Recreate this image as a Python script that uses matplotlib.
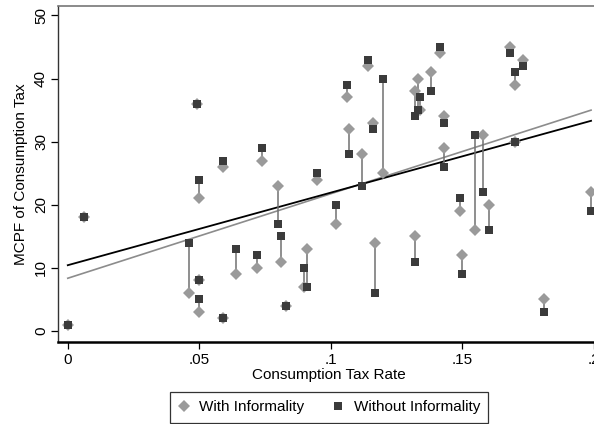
import numpy as np
import matplotlib.pyplot as plt

plt.rcParams["font.family"] = ["Liberation Sans", "DejaVu Sans"]

# taxa de consumo e MCPF (com / sem informalidade)
tax_rate = [0.000, 0.006, 0.049, 0.050, 0.046, 0.050, 0.050, 0.059, 0.059, 0.064,
            0.072, 0.074, 0.080, 0.081, 0.083, 0.0898, 0.0909, 0.0948, 0.102, 0.106,
            0.107, 0.112, 0.114, 0.116, 0.117, 0.120, 0.132, 0.133, 0.134, 0.132,
            0.138, 0.1417, 0.143, 0.143, 0.149, 0.150, 0.155, 0.158, 0.160, 0.168,
            0.170, 0.170, 0.173, 0.181, 0.199]
mcpf_with = [1, 18, 36, 21, 6, 8, 3, 2, 26, 9,
             10, 27, 23, 11, 4, 7, 13, 24, 17, 37,
             32, 28, 42, 33, 14, 25, 38, 40, 35, 15,
             41, 44, 34, 29, 19, 12, 16, 31, 20, 45,
             39, 30, 43, 5, 22]
mcpf_without = [1, 18, 36, 24, 14, 8, 5, 2, 27, 13,
                12, 29, 17, 15, 4, 10, 7, 25, 20, 39,
                28, 23, 43, 32, 6, 40, 34, 35, 37, 11,
                38, 45, 33, 26, 21, 9, 31, 22, 16, 44,
                41, 30, 42, 3, 19]

x_ticks = [0, 0.05, 0.1, 0.15, 0.2]
x_labels = ["0", ".05", ".1", ".15", ".2"]
y_ticks = [0, 10, 20, 30, 40, 50]

x = np.array(tax_rate)
yw = np.array(mcpf_with)
yo = np.array(mcpf_without)

fig = plt.figure(figsize=(5.94, 4.24), dpi=100)
ax = fig.add_axes([0.0971, 0.1941, 0.913, 0.7925])

# retas de ajuste linear
xs = np.array([x.min(), x.max()])
bw = np.polyfit(x, yw, 1)
bo = np.polyfit(x, yo, 1)
ax.plot(xs, np.polyval(bw, xs), color="#8c8c8c", lw=1.2, zorder=2)
ax.plot(xs, np.polyval(bo, xs), color="black", lw=1.3, zorder=2)

# ligacoes entre os dois casos
ax.vlines(x, np.minimum(yw, yo), np.maximum(yw, yo), color="#707070", lw=1.1, zorder=3)

ax.plot(x, yw, "D", color="#9a9a9a", ms=6, mew=0, zorder=4, label="With Informality")
ax.plot(x, yo, "s", color="#3b3b3b", ms=6.3, mew=0, zorder=5, label="Without Informality")

ax.set_xlim(-0.00384, 0.2024)
ax.set_ylim(-1.7, 51.55)
ax.set_xticks(x_ticks)
ax.set_xticklabels(x_labels)
ax.set_yticks(y_ticks)
for lab in ax.get_yticklabels():
    lab.set_rotation(90)
    lab.set_va("center")
ax.tick_params(direction="out", length=5, width=0.9, labelsize=11, colors="black")
ax.tick_params(axis="x", pad=3)
ax.tick_params(axis="y", pad=2)

ax.spines["right"].set_visible(False)
ax.spines["top"].set_color("#777777")
ax.spines["top"].set_linewidth(1.2)
ax.spines["left"].set_color("#333333")
ax.spines["left"].set_linewidth(1.0)
ax.spines["bottom"].set_color("black")
ax.spines["bottom"].set_linewidth(1.8)

ax.set_xlabel("Consumption Tax Rate", fontsize=11, labelpad=1)
ax.set_ylabel("MCPF of Consumption Tax", fontsize=11, labelpad=4)

leg = fig.legend(loc="upper center", bbox_to_anchor=(329 / 594, 1 - 391.7 / 424),
                 borderaxespad=0, ncol=2, fontsize=11, frameon=True, fancybox=False,
                 edgecolor="black", handlelength=0.8, handletextpad=0.6,
                 columnspacing=1.8, borderpad=0.55, markerscale=1.0)
leg.get_frame().set_linewidth(0.9)

plt.savefig("out.png", dpi=100)
plt.close()
